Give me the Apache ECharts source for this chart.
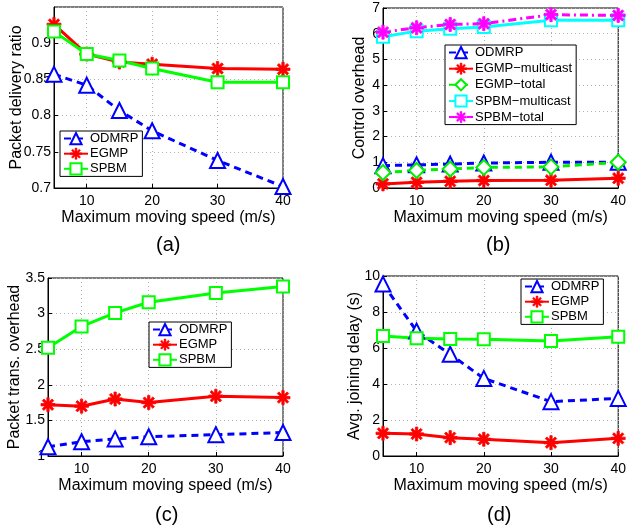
<!DOCTYPE html>
<html>
<head>
<meta charset="utf-8">
<script src="https://cdn.jsdelivr.net/npm/echarts@6/dist/echarts.min.js"></script>
<style>
  html, body { margin: 0; padding: 0; background: #fff; }
  #chart { width: 629px; height: 531px; }
</style>
</head>
<body>
<div id="chart"></div>
<script>
// x values shared by all four panels
const speeds = [5, 10, 15, 20, 30, 40];
const xTicks = [10, 20, 30, 40];

// (a) packet delivery ratio
const pdrOdmrp = [0.857, 0.842, 0.807, 0.779, 0.738, 0.702];
const pdrEgmp = [0.926, 0.885, 0.874, 0.871, 0.865, 0.864];
const pdrSpbm = [0.916, 0.885, 0.876, 0.865, 0.846, 0.846];

// (b) control overhead
const ctrlOdmrp = [0.87, 0.9, 0.93, 0.97, 1.0, 1.0];
const ctrlEgmpMulticast = [0.16, 0.22, 0.26, 0.29, 0.3, 0.38];
const ctrlEgmpTotal = [0.6, 0.68, 0.74, 0.8, 0.82, 1.0];
const ctrlSpbmMulticast = [5.88, 6.1, 6.19, 6.26, 6.52, 6.52];
const ctrlSpbmTotal = [6.06, 6.23, 6.36, 6.39, 6.74, 6.71];

// (c) packet transmission overhead
const transOdmrp = [1.13, 1.2, 1.24, 1.27, 1.3, 1.33];
const transEgmp = [1.72, 1.7, 1.8, 1.75, 1.84, 1.82];
const transSpbm = [2.52, 2.82, 3.01, 3.16, 3.29, 3.38];

// (d) average joining delay
const delayOdmrp = [9.55, 6.94, 5.65, 4.31, 3.02, 3.2];
const delayEgmp = [1.26, 1.22, 1.02, 0.93, 0.74, 0.98];
const delaySpbm = [6.67, 6.54, 6.5, 6.48, 6.39, 6.63];

const FONT = 'Liberation Sans, Arial, sans-serif';

// asterisk marker like matlab '*'
const STAR = 'path://M-1,-6 L1,-6 L1,6 L-1,6 Z M-6,-1 L6,-1 L6,1 L-6,1 Z '
  + 'M-3.5,-4.9 L4.9,3.5 L3.5,4.9 L-4.9,-3.5 Z M4.9,-3.5 L-3.5,4.9 L-4.9,3.5 L3.5,-4.9 Z';

const styles = {
  ODMRP: { color: '#0000ff', type: [7, 5], symbol: 'emptyTriangle', size: 15, bw: 2 },
  EGMP: { color: '#ff0000', type: 'solid', symbol: STAR, size: 14, bw: 0.8 },
  'EGMP−multicast': { color: '#ff0000', type: 'solid', symbol: STAR, size: 14, bw: 0.8 },
  'EGMP−total': { color: '#00ee00', type: [7, 5], symbol: 'emptyDiamond', size: 15, bw: 2 },
  SPBM: { color: '#00ff00', type: 'solid', symbol: 'emptyRect', size: 12, bw: 2 },
  'SPBM−multicast': { color: '#00ffff', type: 'solid', symbol: 'emptyRect', size: 12, bw: 2 },
  'SPBM−total': { color: '#ff00ff', type: [8, 4, 2, 4], symbol: STAR, size: 14, bw: 0.8 },
};

function makeSeries(name, values, idx) {
  const s = styles[name];
  return {
    name: name,
    type: 'line',
    xAxisIndex: idx,
    yAxisIndex: idx,
    data: speeds.map((x, i) => [x, values[i]]),
    symbol: s.symbol,
    symbolSize: s.size,
    showAllSymbol: true,
    lineStyle: { color: s.color, width: 3, type: s.type },
    itemStyle: { color: s.color, borderColor: s.color, borderWidth: s.bw },
    emphasis: { disabled: true },
    animation: false,
  };
}

const grids = [
  { left: 54, top: 7, width: 229, height: 181 },
  { left: 383, top: 8, width: 237, height: 180 },
  { left: 48, top: 278, width: 235, height: 178 },
  { left: 383, top: 276, width: 238, height: 180 },
];

const xAxes = grids.map((g, i) => ({
  type: 'value',
  gridIndex: i,
  min: 5,
  max: 40,
  name: 'Maximum moving speed (m/s)',
  nameLocation: 'middle',
  nameGap: 22,
  nameTextStyle: { fontFamily: FONT, fontSize: 16, color: '#000' },
  axisLine: { lineStyle: { color: '#000', width: 1 } },
  axisTick: { inside: true, length: 4, customValues: xTicks, lineStyle: { color: '#000' } },
  axisLabel: { customValues: xTicks, fontFamily: FONT, fontSize: 14, color: '#000', margin: 6 },
  splitLine: { show: true, lineStyle: { color: '#b0b0b0', type: [1, 3] } },
}));

function yAxis(i, name, min, max, interval, hideMax, gap) {
  return {
    type: 'value',
    gridIndex: i,
    min: min,
    max: max,
    interval: interval,
    name: name,
    nameLocation: 'middle',
    nameGap: gap,
    nameMoveOverlap: false,
    nameTextStyle: { fontFamily: FONT, fontSize: 16, color: '#000' },
    axisLine: { show: true, lineStyle: { color: '#000', width: 1 } },
    axisTick: { show: true, inside: true, length: 4, lineStyle: { color: '#000' } },
    axisLabel: { fontFamily: FONT, fontSize: 14, color: '#000', margin: 3, showMaxLabel: !hideMax },
    splitLine: { show: true, lineStyle: { color: '#b0b0b0', type: [1, 3] } },
  };
}

const yAxes = [
  yAxis(0, 'Packet delivery ratio', 0.7, 0.95, 0.05, true, 29),
  yAxis(1, 'Control overhead', 0, 7, 1, false, 15),
  yAxis(2, 'Packet trans. overhead', 1, 3.5, 0.5, false, 25),
  yAxis(3, 'Avg. joining delay (s)', 0, 10, 2, false, 20),
];

function legendItem(name) {
  const s = styles[name];
  if (s.symbol === STAR) {
    return { name: name, itemStyle: { color: s.color, borderColor: s.color, borderWidth: 0.5 } };
  }
  return { name: name };
}

function legend(names, left, top, gap) {
  return {
    data: names.map(legendItem),
    orient: 'vertical',
    left: left,
    top: top,
    padding: [1, 4, 1, 3],
    itemWidth: 24,
    itemHeight: 14,
    itemGap: gap,
    borderColor: '#000',
    borderWidth: 1,
    backgroundColor: '#fff',
    selectedMode: false,
    textStyle: { fontFamily: FONT, fontSize: 13, color: '#000', padding: [0, 0, 0, -3] },
  };
}

const three = ['ODMRP', 'EGMP', 'SPBM'];

const chart = echarts.init(document.getElementById('chart'));
chart.setOption({
  backgroundColor: '#fff',
  animation: false,
  grid: grids.map(g => Object.assign({ show: true, borderColor: '#000', borderWidth: 1, backgroundColor: 'transparent' }, g)),
  xAxis: xAxes,
  yAxis: yAxes,
  legend: [
    legend(three, 60, 131, 2),
    legend(['ODMRP', 'EGMP−multicast', 'EGMP−total', 'SPBM−multicast', 'SPBM−total'], 445, 45, 3),
    legend(three, 149, 322, 2),
    legend(three, 521, 279, 2),
  ],
  graphic: [
    { type: 'text', left: 156, top: 235, style: { text: '(a)', fontFamily: FONT, fontSize: 20, fill: '#000' } },
    { type: 'text', left: 486, top: 235, style: { text: '(b)', fontFamily: FONT, fontSize: 20, fill: '#000' } },
    { type: 'text', left: 155, top: 505, style: { text: '(c)', fontFamily: FONT, fontSize: 20, fill: '#000' } },
    { type: 'text', left: 487, top: 505, style: { text: '(d)', fontFamily: FONT, fontSize: 20, fill: '#000' } },
  ],
  series: [
    makeSeries('ODMRP', pdrOdmrp, 0),
    makeSeries('EGMP', pdrEgmp, 0),
    makeSeries('SPBM', pdrSpbm, 0),

    makeSeries('ODMRP', ctrlOdmrp, 1),
    makeSeries('EGMP−multicast', ctrlEgmpMulticast, 1),
    makeSeries('EGMP−total', ctrlEgmpTotal, 1),
    makeSeries('SPBM−multicast', ctrlSpbmMulticast, 1),
    makeSeries('SPBM−total', ctrlSpbmTotal, 1),

    makeSeries('ODMRP', transOdmrp, 2),
    makeSeries('EGMP', transEgmp, 2),
    makeSeries('SPBM', transSpbm, 2),

    makeSeries('ODMRP', delayOdmrp, 3),
    makeSeries('EGMP', delayEgmp, 3),
    makeSeries('SPBM', delaySpbm, 3),
  ],
});
</script>
</body>
</html>
